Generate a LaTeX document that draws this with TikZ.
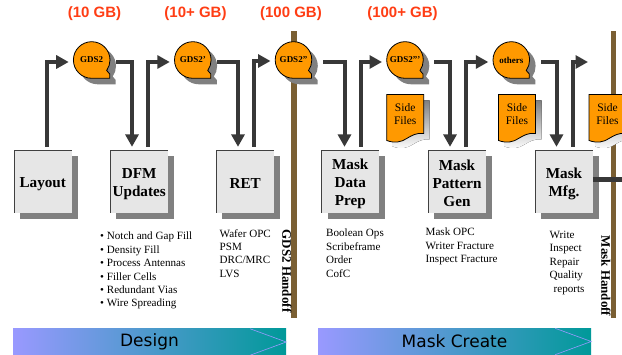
\documentclass[tikz,border=0pt]{standalone}
\usepackage{fontspec}
\usetikzlibrary{arrows.meta,shadows,shapes.geometric}
\setmainfont{Liberation Serif}
\newfontfamily\hsans{Liberation Sans}
\newfontfamily\dsans{DejaVu Sans}
\definecolor{brownbar}{HTML}{7A5F33}
\definecolor{orangefill}{HTML}{FF9900}
\definecolor{darkflow}{HTML}{383838}
\definecolor{shade}{HTML}{808080}
\definecolor{boxgray}{HTML}{E6E6E6}
\definecolor{sizered}{HTML}{FF3D14}
\tikzset{
  x=1pt,y=-1pt,
  stagebox/.style={fill=boxgray,minimum width=57.5pt,minimum height=62.5pt,inner sep=0pt,align=center,
    font=\fontsize{15.2}{18}\selectfont\bfseries,
    copy shadow={shadow xshift=6pt,shadow yshift=-6pt,fill=shade,draw=none,opacity=1}},
  boxedge/.style={draw=black!75,line width=.4pt},
  gdslabel/.style={circle,minimum size=36.6pt,inner sep=0pt,font=\fontsize{9}{10}\selectfont\bfseries},
  bubble/.style={fill=orangefill,draw=black,line width=.8pt},
  bubbleshade/.style={fill=shade},
  flow/.style={draw=darkflow,line width=4pt,-{Triangle[length=12.5pt,width=13pt]}},
  handoffbar/.style={fill=brownbar},
  sizelabel/.style={font=\hsans\fontsize{15}{17}\selectfont\bfseries,text=sizered},
  listtext/.style={align=left,anchor=north west,inner sep=0pt,font=\fontsize{11.1}{13.4}\selectfont},
  handoff/.style={rotate=-90,inner sep=0pt,font=\fontsize{13}{15}\selectfont\bfseries},
  phase/.style={minimum width=273pt,minimum height=26pt,inner sep=0pt,left color=phaseA,right color=phaseB,
    font=\dsans\fontsize{17}{20}\selectfont},
  phaseedge/.style={draw=phaseA,line width=.6pt},
  sidelabel/.style={align=center,inner sep=0pt,font=\fontsize{11.5}{13}\selectfont},
}
\definecolor{phaseA}{HTML}{9999FF}
\definecolor{phaseB}{HTML}{009999}
\newcommand{\bubblepath}{(0,18.3) arc[start angle=90,end angle=395,radius=18.3] -- (18,14) -- (18,18.3) -- cycle}
\newcommand{\gdsbubble}[4]{%
  \fill[bubbleshade,shift={(#2+6,#3+6)}] \bubblepath;
  \draw[bubble,shift={(#2,#3)}] \bubblepath;
  \node[gdslabel] (#1) at (#2,#3) {#4};}
\newcommand{\sidepath}{(0,0) -- (37,0) -- (37,39) .. controls (30,38) and (25,41) .. (20,44) .. controls (15,47.5) and (8,49) .. (0,46) -- cycle}
\newcommand{\sidefile}[3]{%
  \fill[shade,shift={(#2+6,#3+6)}] \sidepath;
  \draw[bubble,shift={(#2,#3)}] \sidepath;
  \node[sidelabel] (#1) at (#2+18.5,#3+19.5) {Side\\Files};}
\newcommand{\stage}[4]{%
  \node[stagebox] (#1) at (#2,#3) {\rule{0pt}{15pt}#4};
  \draw[boxedge] (#1.south west) |- (#1.north east);}
\begin{document}
\begin{tikzpicture}
\useasboundingbox (0,0) rectangle (622,355);
\clip (0,0) rectangle (622,355);
% handoff bars
\path[handoffbar] (291,31) rectangle (296.5,318);
\path[handoffbar] (611,31) rectangle (616,318);
% size labels
\node[sizelabel] (s1) at (94.5,14) {(10 GB)};
\node[sizelabel] (s2) at (195.5,14) {(10+ GB)};
\node[sizelabel] (s3) at (291,14) {(100 GB)};
\node[sizelabel] (s4) at (402.5,14) {(100+ GB)};
% bubbles
\gdsbubble{g1}{91.7}{60}{GDS2}
\gdsbubble{g2}{192.8}{60}{GDS2'}
\gdsbubble{g3}{293.5}{60}{GDS2''}
\gdsbubble{g4}{405}{60}{GDS2'''}
\gdsbubble{g5}{511.3}{60}{others}
\coordinate (g6) at (588,62);
% side files
\sidefile{f1}{386.7}{94.5}
\sidefile{f2}{498.5}{94.5}
\sidefile{f3}{589}{94.5}
% stage boxes
\stage{layout}{42.75}{181.3}{Layout}
\stage{dfm}{139.2}{181.3}{DFM\\Updates}
\stage{ret}{245.2}{181.3}{RET}
\stage{prep}{350.25}{181.3}{Mask\\Data\\Prep}
\stage{gen}{457}{181.3}{Mask\\Pattern\\Gen}
\stage{mfg}{564}{181.3}{Mask\\Mfg.}
% connectors
\draw[flow,shorten >=4.5pt] ([xshift=3.75pt,yshift=3pt]layout.north) |- ([yshift=-2pt]g1.west);
\draw[flow] ([yshift=-2pt]g1.east) ++(6,0) -| ([xshift=-7.2pt,yshift=3pt]dfm.north);
\draw[flow,shorten >=4.5pt] ([xshift=8.3pt,yshift=3pt]dfm.north) |- ([yshift=-2pt]g2.west);
\draw[flow] ([yshift=-2pt]g2.east) ++(6,0) -| ([xshift=-7.2pt,yshift=3pt]ret.north);
\draw[flow,shorten >=4.5pt] ([xshift=8.8pt,yshift=3pt]ret.north) |- ([yshift=-1pt]g3.west);
\coordinate (g3out) at ([xshift=11.2pt,yshift=-2pt]g3.east);
\draw[flow] (g3out) -| ([xshift=-5.75pt,yshift=3pt]prep.north);
\draw[flow,shorten >=4.5pt] ([xshift=10.25pt,yshift=3pt]prep.north) |- ([yshift=-2pt]g4.west);
\draw[flow] ([xshift=10.7pt,yshift=-2pt]g4.east) -| ([xshift=-7pt,yshift=3pt]gen.north);
\draw[flow,shorten >=4.5pt] ([xshift=9pt,yshift=3pt]gen.north) |- ([yshift=-2pt]g5.west);
\draw[flow] ([xshift=11.4pt,yshift=-2pt]g5.east) -| ([xshift=-7.5pt,yshift=3pt]mfg.north);
\draw[flow] ([xshift=8.7pt,yshift=3pt]mfg.north) |- (g6);
\coordinate (mfgout) at (622,179.3);
\draw[draw=darkflow,line width=4.5pt] (mfg.east |- mfgout) -- (mfgout);
% lists
\node[listtext] (dfmlist) at (100,232) {\textbullet\ Notch and Gap Fill\\\textbullet\ Density Fill\\\textbullet\ Process Antennas\\\textbullet\ Filler Cells\\\textbullet\ Redundant Vias\\\textbullet\ Wire Spreading};
\node[listtext] (retlist) at (219.5,229) {Wafer OPC\\PSM\\DRC/MRC\\LVS};
\node[listtext] (preplist) at (326,229) {Boolean Ops\\Scribeframe\\Order\\CofC};
\node[listtext] (genlist) at (425.5,228) {Mask OPC\\Writer Fracture\\Inspect Fracture};
\node[listtext] (mfglist) at (549.5,231) {Write\\Inspect\\Repair\\Quality\\\hspace*{4pt}reports};
% handoff labels
\node[handoff] (h1) at (287,271) {GDS2 Handoff};
\node[handoff] (h2) at (606,276) {Mask Handoff};
% phases
\node[phase] (design) at (149.5,342) {Design};
\node[phase] (create) at (454.5,341.5) {Mask Create};
\draw[phaseedge] ([xshift=-36pt]design.north east) -- (design.east) -- ([xshift=-36pt]design.south east);
\draw[phaseedge] ([xshift=-36pt]create.north east) -- (create.east) -- ([xshift=-36pt]create.south east);
\end{tikzpicture}
\end{document}
